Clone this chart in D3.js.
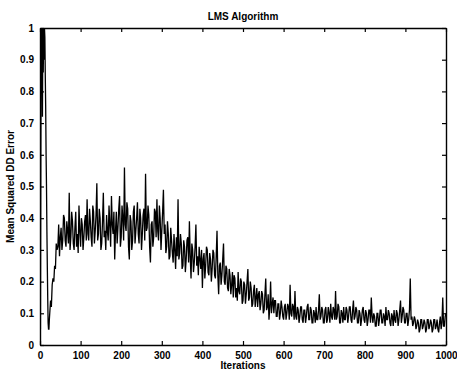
<!DOCTYPE html>
<html>
<head>
<meta charset="utf-8">
<script src="https://cdn.jsdelivr.net/npm/d3@7"></script>
<style>
  html, body { margin: 0; padding: 0; background: #fff; }
  svg { display: block; }
  text { font-family: "Liberation Sans", Arial, Helvetica, sans-serif; font-weight: bold; fill: #000; }
</style>
</head>
<body>
<svg id="chart" width="457" height="371"></svg>
<script>
// ---- data ----
const title = "LMS Algorithm";
const xLabel = "Iterations";
const yLabel = "Mean Squared DD Error";
const xTicks = [0, 100, 200, 300, 400, 500, 600, 700, 800, 900, 1000];
const yTicks = [0, 0.1, 0.2, 0.3, 0.4, 0.5, 0.6, 0.7, 0.8, 0.9, 1];
const yTickLabels = ["0", "0.1", "0.2", "0.3", "0.4", "0.5", "0.6", "0.7", "0.8", "0.9", "1"];

// start-up transient (iteration, error)
const earlyIterations = [1, 2, 3, 4, 5, 6, 7, 8, 9, 10, 11, 12, 13, 14, 15, 16, 17, 18, 19, 20, 21, 22, 23, 24, 26, 28, 30, 32, 34, 36, 38, 40, 42];
const earlyErrors = [0.05, 0.6, 1.0, 0.93, 1.0, 0.72, 1.0, 0.86, 1.0, 0.9, 1.0, 0.97, 0.85, 0.75, 0.6, 0.5, 0.36, 0.25, 0.15, 0.07, 0.05, 0.05, 0.08, 0.1, 0.14, 0.12, 0.19, 0.21, 0.2, 0.25, 0.24, 0.32, 0.3];

// steady part: every 2 iterations from 44 to 1000
const mainStart = 44;
const mainStep = 2;
const mainErrors = [
  0.31,0.38,0.28,0.34,0.37,0.30,0.33,0.41,0.40,0.33,0.31,0.39,0.36,0.32,0.48,0.30,0.34,0.42,0.39,0.32,
  0.30,0.37,0.42,0.31,0.35,0.29,0.44,0.36,0.31,0.40,0.38,0.30,0.34,0.39,0.41,0.33,0.46,0.35,0.33,0.43,
  0.39,0.34,0.31,0.44,0.42,0.32,0.36,0.41,0.51,0.33,0.35,0.43,0.40,0.30,0.32,0.39,0.48,0.34,0.36,0.30,
  0.41,0.36,0.33,0.44,0.38,0.31,0.47,0.38,0.35,0.42,0.27,0.36,0.42,0.32,0.37,0.43,0.47,0.31,0.34,0.44,
  0.40,0.33,0.56,0.38,0.36,0.45,0.43,0.31,0.27,0.41,0.39,0.30,0.33,0.42,0.44,0.32,0.36,0.40,0.45,0.35,
  0.32,0.43,0.40,0.30,0.35,0.41,0.43,0.33,0.54,0.36,0.37,0.44,0.41,0.31,0.26,0.38,0.39,0.31,0.34,0.43,
  0.42,0.34,0.46,0.36,0.33,0.44,0.40,0.30,0.36,0.42,0.49,0.35,0.38,0.29,0.31,0.39,0.35,0.27,0.28,0.37,
  0.33,0.29,0.26,0.35,0.30,0.24,0.34,0.28,0.46,0.27,0.29,0.35,0.32,0.24,0.25,0.33,0.31,0.23,0.27,0.33,
  0.34,0.26,0.39,0.28,0.21,0.32,0.30,0.23,0.26,0.31,0.38,0.25,0.28,0.22,0.31,0.27,0.24,0.30,0.18,0.27,
  0.29,0.21,0.25,0.31,0.30,0.23,0.22,0.29,0.27,0.20,0.24,0.30,0.29,0.22,0.21,0.28,0.36,0.22,0.16,0.25,
  0.26,0.19,0.22,0.27,0.32,0.20,0.19,0.25,0.24,0.18,0.17,0.24,0.22,0.16,0.19,0.23,0.15,0.22,0.21,0.15,
  0.18,0.14,0.23,0.17,0.16,0.21,0.20,0.13,0.14,0.20,0.19,0.13,0.16,0.20,0.24,0.14,0.15,0.20,0.18,0.12,
  0.13,0.17,0.19,0.12,0.15,0.18,0.12,0.16,0.17,0.11,0.13,0.17,0.16,0.10,0.11,0.16,0.21,0.11,0.12,0.16,
  0.08,0.12,0.20,0.10,0.13,0.15,0.10,0.14,0.14,0.09,0.09,0.13,0.13,0.08,0.10,0.14,0.12,0.09,0.08,0.12,
  0.13,0.08,0.10,0.13,0.12,0.08,0.19,0.10,0.09,0.13,0.12,0.08,0.17,0.09,0.08,0.12,0.11,0.07,0.09,0.12,
  0.12,0.08,0.07,0.11,0.11,0.07,0.09,0.12,0.13,0.08,0.08,0.12,0.11,0.07,0.07,0.11,0.10,0.07,0.12,0.08,
  0.08,0.11,0.16,0.08,0.09,0.12,0.11,0.07,0.07,0.11,0.12,0.07,0.08,0.12,0.10,0.07,0.13,0.09,0.08,0.12,
  0.11,0.08,0.17,0.08,0.09,0.13,0.12,0.07,0.07,0.11,0.10,0.07,0.12,0.08,0.08,0.12,0.11,0.07,0.09,0.12,
  0.12,0.08,0.07,0.11,0.14,0.08,0.09,0.12,0.11,0.07,0.07,0.11,0.10,0.06,0.08,0.11,0.12,0.08,0.07,0.11,
  0.10,0.06,0.08,0.11,0.11,0.07,0.15,0.09,0.07,0.10,0.09,0.06,0.06,0.10,0.10,0.06,0.08,0.11,0.11,0.07,
  0.07,0.10,0.09,0.06,0.12,0.08,0.08,0.11,0.10,0.07,0.06,0.10,0.09,0.06,0.11,0.08,0.07,0.11,0.10,0.06,
  0.08,0.11,0.14,0.07,0.09,0.12,0.11,0.07,0.07,0.10,0.10,0.06,0.08,0.11,0.21,0.08,0.09,0.06,0.07,0.09,
  0.08,0.05,0.06,0.08,0.07,0.04,0.05,0.08,0.08,0.05,0.06,0.08,0.07,0.04,0.05,0.08,0.08,0.05,0.06,0.08,
  0.07,0.04,0.05,0.08,0.08,0.05,0.06,0.08,0.05,0.04,0.07,0.09,0.05,0.07,0.15,0.06,0.06,0.09,0.10
];

// ---- build table ----
const points = earlyIterations.map((it, i) => ({ it: it, v: earlyErrors[i] }))
  .concat(mainErrors.map((v, i) => ({ it: mainStart + i * mainStep, v: v })));

// ---- layout ----
const svg = d3.select("#chart");
const mLeft = 40, mRight = 446, mTop = 28, mBottom = 345;

const x = d3.scaleLinear().domain([0, 1000]).range([mLeft, mRight]);
const y = d3.scaleLinear().domain([0, 1]).range([mBottom, mTop]);

const tickLen = 4;

svg.append("clipPath").attr("id", "clip")
  .append("rect").attr("x", mLeft).attr("y", mTop).attr("width", mRight - mLeft).attr("height", mBottom - mTop);

const line = d3.line().x(d => x(d.it)).y(d => y(Math.min(d.v, 1.05)));
svg.append("path")
  .datum(points)
  .attr("clip-path", "url(#clip)")
  .attr("fill", "none")
  .attr("stroke", "#000")
  .attr("stroke-width", 1.3)
  .attr("stroke-linejoin", "miter")
  .attr("d", line);

const xAxisB = d3.axisBottom(x).tickValues(xTicks).tickSizeInner(-tickLen).tickSizeOuter(0).tickPadding(7).tickFormat(d3.format("d"));
const xAxisT = d3.axisTop(x).tickValues(xTicks).tickSizeInner(-tickLen).tickSizeOuter(0).tickFormat("");
const yAxisL = d3.axisLeft(y).tickValues(yTicks).tickSizeInner(-tickLen).tickSizeOuter(0).tickPadding(6).tickFormat((d, i) => yTickLabels[i]);
const yAxisR = d3.axisRight(y).tickValues(yTicks).tickSizeInner(-tickLen).tickSizeOuter(0).tickFormat("");

function styleAxis(g) {
  g.selectAll(".domain").attr("stroke", "#000").attr("stroke-width", 1.4);
  g.selectAll(".tick line").attr("stroke", "#000").attr("stroke-width", 1.2);
  g.selectAll(".tick text").attr("font-size", 10).attr("font-family", "Liberation Sans, Arial, sans-serif").attr("font-weight", "bold").attr("fill", "#000");
}

svg.append("g").attr("transform", `translate(0,${mBottom})`).call(xAxisB).call(styleAxis);
svg.append("g").attr("transform", `translate(0,${mTop})`).call(xAxisT).call(styleAxis);
svg.append("g").attr("transform", `translate(${mLeft},0)`).call(yAxisL).call(styleAxis);
svg.append("g").attr("transform", `translate(${mRight},0)`).call(yAxisR).call(styleAxis);

svg.append("text")
  .attr("x", (mLeft + mRight) / 2).attr("y", 20)
  .attr("text-anchor", "middle").attr("font-size", 10)
  .text(title);

svg.append("text")
  .attr("x", (mLeft + mRight) / 2).attr("y", 369)
  .attr("text-anchor", "middle").attr("font-size", 10)
  .text(xLabel);

svg.append("text")
  .attr("transform", `translate(14,${(mTop + mBottom) / 2}) rotate(-90)`)
  .attr("text-anchor", "middle").attr("font-size", 10)
  .text(yLabel);
</script>
</body>
</html>
